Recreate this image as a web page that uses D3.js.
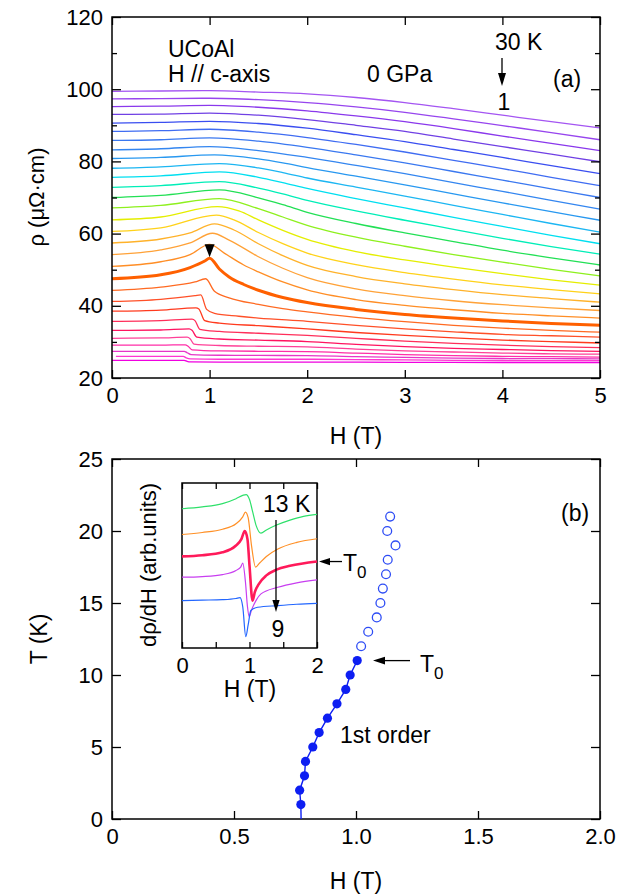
<!DOCTYPE html>
<html><head><meta charset="utf-8">
<script src="https://cdn.jsdelivr.net/npm/d3@7"></script>
<style>
body{margin:0;background:#fff;}
svg text{font-family:"Liberation Sans", Arial, Helvetica, sans-serif;fill:#000;}
</style></head><body>
<svg id="chart" width="630" height="895"></svg>
<script>
// ---------------- Panel (a): rho(H) curves, T = 30 K ... 1 K ----------------
const temperatures = [30,29,28,27,26,25,24,23,22,21,20,19,18,17,16,15,14,13,12,11,10,9,8,7,6,5,4,3,2,1];
const thickTemperature = 11;
const rho30 = [[0,99.4],[0.5,99.5],[1.0,99.6],[1.5,99.2],[2,98.7],[2.5,97.7],[3,96.3],[3.5,94.6],[4,92.8],[4.5,91.0],[5,89.3]];
const rho29 = [[0,97.3],[0.5,97.4],[1.0,97.5],[1.5,97.1],[2,96.3],[2.5,95.1],[3,93.6],[3.5,91.8],[4,89.9],[4.5,88.0],[5,86.0]];
const rho28 = [[0,95.2],[0.5,95.3],[1.0,95.5],[1.5,95.0],[2,94.0],[2.5,92.6],[3,91.0],[3.5,89.1],[4,87.0],[4.5,85.0],[5,83.0]];
const rho27 = [[0,93.0],[0.5,93.1],[1.0,93.4],[1.5,92.8],[2,91.6],[2.5,90.0],[3,88.3],[3.5,86.2],[4,84.1],[4.5,82.0],[5,79.9]];
const rho26 = [[0,90.6],[0.5,90.8],[1.0,91.1],[1.5,90.5],[2,89.2],[2.5,87.4],[3,85.5],[3.5,83.3],[4,81.1],[4.5,78.8],[5,76.6]];
const rho25 = [[0,88.3],[0.5,88.5],[1.0,88.9],[1.5,88.1],[2,86.6],[2.5,84.7],[3,82.6],[3.5,80.3],[4,78.0],[4.5,75.6],[5,73.3]];
const rho24 = [[0,85.8],[0.5,86.0],[1.0,86.5],[1.5,85.6],[2,83.9],[2.5,81.8],[3,79.6],[3.5,77.2],[4,74.8],[4.5,72.4],[5,70.0]];
const rho23 = [[0,83.2],[0.5,83.5],[1.0,84.1],[1.5,83.0],[2,81.1],[2.5,78.9],[3,76.6],[3.5,74.1],[4,71.7],[4.5,69.2],[5,66.8]];
const rho22 = [[0,80.8],[0.5,81.1],[1.05,81.8],[1.5,80.7],[1.75,79.6],[2,78.3],[2.5,75.9],[3,73.5],[3.5,71.0],[4,68.5],[4.5,66.1],[5,63.7]];
const rho21 = [[0,78.1],[0.5,78.5],[1.1,79.4],[1.5,78.2],[1.75,76.9],[2,75.4],[2.5,72.9],[3,70.4],[3.5,67.8],[4,65.3],[4.5,62.8],[5,60.4]];
const rho20 = [[0,75.6],[0.5,76.0],[1.1,77.1],[1.5,75.6],[1.75,74.1],[2,72.5],[2.5,69.7],[3,67.1],[3.5,64.5],[4,62.0],[4.5,59.5],[5,57.2]];
const rho19 = [[0,72.8],[0.5,73.3],[1.1,74.4],[1.5,72.6],[1.75,71.0],[2,69.2],[2.5,66.3],[3,63.7],[3.5,61.2],[4,58.7],[4.5,56.4],[5,54.3]];
const rho18 = [[0,70.0],[0.5,70.6],[1.1,72.1],[1.5,69.9],[1.75,68.0],[2,65.9],[2.5,62.8],[3,60.2],[3.5,57.8],[4,55.4],[4.5,53.3],[5,51.3]];
const rho17 = [[0,67.1],[0.5,67.8],[1.1,69.7],[1.5,66.9],[1.75,64.6],[2,62.3],[2.5,59.0],[3,56.5],[3.5,54.2],[4,52.1],[4.5,50.1],[5,48.3]];
const rho16 = [[0,63.8],[0.5,64.6],[1.08,67.5],[1.3,66.3],[1.5,63.8],[1.75,60.9],[2,58.4],[2.5,55.0],[3,52.7],[3.5,50.7],[4,48.9],[4.5,47.2],[5,45.7]];
const rho15 = [[0,60.6],[0.5,61.6],[1.07,65.1],[1.25,63.8],[1.5,60.3],[1.75,57.2],[2,54.6],[2.5,51.4],[3,49.2],[3.5,47.4],[4,45.8],[4.5,44.5],[5,43.3]];
const rho14 = [[0,57.4],[0.5,58.5],[0.8,60.2],[1.05,62.7],[1.25,61.0],[1.5,57.2],[1.75,53.9],[2,51.2],[2.5,48.1],[3,46.1],[3.5,44.5],[4,43.1],[4.5,42.0],[5,41.0]];
const rho13 = [[0,54.2],[0.5,55.5],[0.8,57.4],[1.03,60.1],[1.2,58.2],[1.5,53.6],[1.75,50.4],[2,47.8],[2.5,44.7],[3,42.8],[3.5,41.4],[4,40.3],[4.5,39.4],[5,38.7]];
const rho12 = [[0,50.9],[0.5,52.2],[0.8,54.2],[1.0,57.0],[1.15,54.6],[1.35,51.3],[1.5,49.4],[1.75,46.6],[2,44.4],[2.5,41.7],[3,40.1],[3.5,38.9],[4,37.9],[4.5,37.2],[5,36.6]];
const rho11 = [[0,47.5],[0.5,48.6],[0.8,50.6],[0.95,52.4],[1.0,53.2],[1.1,50.2],[1.2,48.0],[1.35,45.9],[1.5,44.3],[1.75,42.3],[2,40.9],[2.5,39.0],[3,37.6],[3.5,36.6],[4,35.8],[4.5,35.1],[5,34.6]];
const rho10 = [[0,44.3],[0.5,45.2],[0.85,46.6],[0.96,47.5],[1.05,44.0],[1.2,42.2],[1.5,40.4],[1.75,39.2],[2,38.3],[2.5,36.8],[3,35.6],[3.5,34.6],[4,33.8],[4.5,33.2],[5,32.7]];
const rho9  = [[0,41.2],[0.5,41.8],[0.85,42.8],[0.91,43.0],[0.97,39.0],[1.05,37.9],[1.3,37.1],[1.5,36.6],[2,35.7],[2.5,34.6],[3,33.6],[3.5,32.8],[4,32.1],[4.5,31.7],[5,31.3]];
const rho8  = [[0,38.5],[0.5,38.8],[0.86,39.4],[0.89,39.1],[0.95,35.9],[1.1,35.2],[1.5,34.5],[2,33.6],[2.5,32.6],[3,31.8],[3.5,31.1],[4,30.5],[4.5,30.1],[5,29.7]];
const rho7  = [[0,35.7],[0.5,35.9],[0.82,36.3],[0.85,35.9],[0.9,33.5],[1.1,32.9],[1.5,32.4],[2,31.8],[2.5,31.0],[3,30.2],[3.5,29.6],[4,29.1],[4.5,28.7],[5,28.4]];
const rho6  = [[0,33.2],[0.5,33.3],[0.79,33.6],[0.82,33.2],[0.87,31.3],[1.1,30.8],[1.5,30.5],[2,30.1],[2.5,29.3],[3,28.7],[3.5,28.2],[4,27.9],[4.5,27.6],[5,27.4]];
const rho5  = [[0,31.0],[0.5,31.1],[0.77,31.3],[0.8,30.9],[0.84,29.4],[1.1,29.0],[1.5,28.8],[2,28.6],[2.5,28.0],[3,27.5],[3.5,27.2],[4,26.9],[4.5,26.7],[5,26.6]];
const rho4  = [[0,29.1],[0.5,29.1],[0.75,29.2],[0.78,28.8],[0.82,27.8],[1.1,27.5],[1.5,27.4],[2,27.3],[2.5,26.9],[3,26.5],[3.5,26.2],[4,26.0],[4.5,25.9],[5,25.8]];
const rho3  = [[0,27.4],[0.5,27.4],[0.74,27.4],[0.77,27.0],[0.81,26.5],[1.1,26.3],[1.5,26.25],[2,26.2],[2.5,25.9],[3,25.7],[3.5,25.5],[4,25.4],[4.5,25.35],[5,25.3]];
const rho2  = [[0.04,26.0],[0.5,26.0],[0.73,26.0],[0.76,25.6],[0.8,25.3],[1.1,25.2],[2,25.2],[2.5,25.1],[3,25.0],[3.5,24.9],[4,24.85],[4.5,24.8],[5,24.8]];
const rho1  = [[0,24.9],[0.5,24.9],[0.74,24.9],[0.77,24.6],[0.8,24.45],[1.1,24.4],[2,24.4],[3,24.35],[4,24.3],[5,24.3]];
const curveColors = ["#a455f2","#9745ee","#8a38ec","#7040e4","#3a4ef0","#3f6cf2","#3a78f0","#3486f0","#2898f0","#1cb6f2",
                     "#00dff0","#00eeb8","#22e055","#8ef01e","#e4ee00","#ffd21a","#ffb22a","#ffa238","#ff8e26","#ff6000",
                     "#ff6a22","#ff5028","#ff3a1e","#ff2e5a","#ff1460","#ff4098","#ff2ea8","#e636c8","#ff36d2","#f000e0"];
const rhoTicks = [20,40,60,80,100,120];
const rhoMinorTicks = [30,50,70,90,110];
const fieldTicksA = [0,1,2,3,4,5];
const peakMarker = [1.0, 53.2];   // arrowhead on the 11 K curve

// ---------------- Panel (b): phase diagram ----------------
const firstOrderH = [0.774,0.769,0.789,0.793,0.823,0.849,0.883,0.922,0.958,0.976,1.005];
const firstOrderT = [1,2,3,4,5,6,7,8,9,10,11];
const firstOrderLineStart = [0.775, 0];
const crossoverH = [1.021,1.050,1.085,1.100,1.110,1.123,1.130,1.162,1.128,1.140];
const crossoverT = [12,13,14,15,16,17,18,19,20,21];
const tempTicksB = [0,5,10,15,20,25];
const fieldTicksB = [0,0.5,1.0,1.5,2.0];

// ---------------- Inset: d rho / dH ----------------
const insetTemps = [13,12,11,10,9];
const dRho13 = [[0,8.44],[0.3,8.55],[0.6,8.75],[0.8,9.05],[0.9,9.25],[0.95,9.3],[1.0,9.0],[1.05,8.2],[1.1,7.4],[1.17,6.96],[1.25,7.15],[1.4,7.45],[1.6,7.75],[1.8,7.98],[2.0,8.1]];
const dRho12 = [[0,6.88],[0.3,7.0],[0.6,7.2],[0.8,7.53],[0.9,7.95],[0.94,8.24],[0.98,7.9],[1.03,6.2],[1.09,4.9],[1.15,5.15],[1.25,5.55],[1.42,6.0],[1.7,6.4],[2.0,6.62]];
const dRho11 = [[0,5.55],[0.3,5.62],[0.6,5.8],[0.8,6.21],[0.88,6.6],[0.93,7.09],[0.97,6.6],[1.0,5.0],[1.045,2.87],[1.08,3.4],[1.14,3.89],[1.25,4.4],[1.4,4.75],[1.6,4.98],[2.0,5.24]];
const dRho10 = [[0,4.29],[0.3,4.33],[0.6,4.45],[0.8,4.70],[0.87,4.9],[0.9,5.14],[0.94,4.0],[0.97,2.5],[0.995,1.9],[1.03,2.3],[1.1,2.9],[1.17,3.28],[1.42,3.68],[1.7,3.95],[2.0,4.13]];
const dRho9  = [[0,2.87],[0.3,2.9],[0.6,2.93],[0.8,3.0],[0.86,3.05],[0.9,2.5],[0.945,0.69],[0.98,1.4],[1.02,2.27],[1.12,2.47],[1.42,2.57],[1.7,2.65],[2.0,2.71]];
const insetColors = ["#2ee06a","#ff9026","#ff1a5a","#c83ef0","#2266ff"];
const insetFieldTicks = [0,0.5,1,1.5,2];
const insetFieldLabels = [0,1,2];

// =====================================================================
const svg = d3.select("#chart");
const FONT = 22;
const ANN = 23;

function arrow(g, x1, y1, x2, y2, headLen, headHalf) {
  const ang = Math.atan2(y2 - y1, x2 - x1);
  const bx = x2 - headLen * Math.cos(ang), by = y2 - headLen * Math.sin(ang);
  g.append("line").attr("x1", x1).attr("y1", y1).attr("x2", bx).attr("y2", by)
    .attr("stroke", "#000").attr("stroke-width", 1.3);
  const px = -Math.sin(ang) * headHalf, py = Math.cos(ang) * headHalf;
  g.append("path").attr("d", `M${x2},${y2}L${bx + px},${by + py}L${bx - px},${by - py}Z`).attr("fill", "#000");
}

function styleAxis(sel, showLabels) {
  sel.select(".domain").remove();
  sel.selectAll(".tick line").attr("stroke", "#000").attr("stroke-width", 1.3);
  sel.selectAll(".tick text").attr("font-size", FONT).attr("font-family", '"Liberation Sans", Arial, sans-serif').attr("fill", "#000");
  if (!showLabels) sel.selectAll(".tick text").remove();
}

// ---------- Panel (a) ----------
const xA = d3.scaleLinear().domain([0, 5]).range([112, 600]);
const yA = d3.scaleLinear().domain([20, 120]).range([378, 17]);
const gA = svg.append("g");

const curves = [rho30,rho29,rho28,rho27,rho26,rho25,rho24,rho23,rho22,rho21,rho20,rho19,rho18,rho17,rho16,rho15,
                rho14,rho13,rho12,rho11,rho10,rho9,rho8,rho7,rho6,rho5,rho4,rho3,rho2,rho1];
const lineA = d3.line().x(d => xA(d[0])).y(d => yA(d[1])).curve(d3.curveMonotoneX);
const order = temperatures.map((t, i) => i).sort((a, b) => (temperatures[a] === thickTemperature) - (temperatures[b] === thickTemperature));
gA.selectAll("path.curve").data(order).enter().append("path")
  .attr("class", "curve")
  .attr("d", i => lineA(curves[i]))
  .attr("fill", "none")
  .attr("stroke", i => curveColors[i])
  .attr("stroke-width", i => temperatures[i] === thickTemperature ? 3 : 1.3);

// axes (inward ticks)
gA.append("g").attr("transform", "translate(0,378)")
  .call(d3.axisBottom(xA).tickValues(fieldTicksA).tickSizeInner(-8).tickSizeOuter(0).tickPadding(9).tickFormat(d3.format("d")))
  .call(s => styleAxis(s, true));
gA.append("g").attr("transform", "translate(0,17)")
  .call(d3.axisTop(xA).tickValues(fieldTicksA).tickSizeInner(-8).tickSizeOuter(0))
  .call(s => styleAxis(s, false));
gA.append("g").attr("transform", "translate(112,0)")
  .call(d3.axisLeft(yA).tickValues(rhoTicks).tickSizeInner(-9).tickSizeOuter(0).tickPadding(9))
  .call(s => styleAxis(s, true));
gA.append("g").attr("transform", "translate(112,0)")
  .call(d3.axisLeft(yA).tickValues(rhoMinorTicks).tickSizeInner(-5).tickSizeOuter(0))
  .call(s => styleAxis(s, false));
gA.append("g").attr("transform", "translate(600,0)")
  .call(d3.axisRight(yA).tickValues(rhoTicks).tickSizeInner(-9).tickSizeOuter(0))
  .call(s => styleAxis(s, false));
gA.append("g").attr("transform", "translate(600,0)")
  .call(d3.axisRight(yA).tickValues(rhoMinorTicks).tickSizeInner(-5).tickSizeOuter(0))
  .call(s => styleAxis(s, false));
gA.append("rect").attr("x", 112).attr("y", 17).attr("width", 488).attr("height", 361)
  .attr("fill", "none").attr("stroke", "#000").attr("stroke-width", 1.5);

// peak arrowhead
{
  const px = xA(peakMarker[0]), py = yA(peakMarker[1]);
  gA.append("path").attr("d", `M${px},${py - 1}L${px - 5},${py - 14}L${px + 5},${py - 14}Z`).attr("fill", "#000");
}

// annotations (a)
gA.append("text").attr("x", 168).attr("y", 57).attr("font-size", ANN).text("UCoAl");
gA.append("text").attr("x", 168).attr("y", 82).attr("font-size", ANN).text("H // c-axis");
gA.append("text").attr("x", 367).attr("y", 82).attr("font-size", ANN).text("0 GPa");
gA.append("text").attr("x", 495).attr("y", 50).attr("font-size", ANN).text("30 K");
arrow(gA, 502, 58, 502, 86, 13, 4);
gA.append("text").attr("x", 504).attr("y", 110).attr("font-size", ANN).attr("text-anchor", "middle").text("1");
gA.append("text").attr("x", 553).attr("y", 87).attr("font-size", ANN).text("(a)");

// axis titles (a)
gA.append("text").attr("transform", "translate(44,197) rotate(-90)").attr("text-anchor", "middle")
  .attr("font-size", 22).text("ρ (μΩ·cm)");
gA.append("text").attr("x", 356).attr("y", 444).attr("text-anchor", "middle").attr("font-size", ANN).text("H (T)");

// ---------- Panel (b) ----------
const xB = d3.scaleLinear().domain([0, 2]).range([112, 600]);
const yB = d3.scaleLinear().domain([0, 25]).range([819, 459]);
const gB = svg.append("g");
const fmtB = d => d === 0 ? "0" : d3.format(".1f")(d);
gB.append("g").attr("transform", "translate(0,819)")
  .call(d3.axisBottom(xB).tickValues(fieldTicksB).tickSizeInner(-8).tickSizeOuter(0).tickPadding(9).tickFormat(fmtB))
  .call(s => styleAxis(s, true));
gB.append("g").attr("transform", "translate(0,459)")
  .call(d3.axisTop(xB).tickValues(fieldTicksB).tickSizeInner(-8).tickSizeOuter(0))
  .call(s => styleAxis(s, false));
gB.append("g").attr("transform", "translate(112,0)")
  .call(d3.axisLeft(yB).tickValues(tempTicksB).tickSizeInner(-9).tickSizeOuter(0).tickPadding(9))
  .call(s => styleAxis(s, true));
gB.append("g").attr("transform", "translate(600,0)")
  .call(d3.axisRight(yB).tickValues(tempTicksB).tickSizeInner(-9).tickSizeOuter(0))
  .call(s => styleAxis(s, false));
gB.append("rect").attr("x", 112).attr("y", 459).attr("width", 488).attr("height", 360)
  .attr("fill", "none").attr("stroke", "#000").attr("stroke-width", 1.5);

// first-order line and points
const foPts = firstOrderH.map((h, i) => [h, firstOrderT[i]]);
const lineB = d3.line().x(d => xB(d[0])).y(d => yB(d[1]));
gB.append("path").attr("d", lineB([firstOrderLineStart, ...foPts]))
  .attr("fill", "none").attr("stroke", "#0d1ef2").attr("stroke-width", 1.4);
gB.selectAll("circle.fo").data(foPts).enter().append("circle").attr("class", "fo")
  .attr("cx", d => xB(d[0])).attr("cy", d => yB(d[1])).attr("r", 4.6).attr("fill", "#0d1ef2");
const coPts = crossoverH.map((h, i) => [h, crossoverT[i]]);
gB.selectAll("circle.co").data(coPts).enter().append("circle").attr("class", "co")
  .attr("cx", d => xB(d[0])).attr("cy", d => yB(d[1])).attr("r", 4.4)
  .attr("fill", "none").attr("stroke", "#2d4cf5").attr("stroke-width", 1.3);

// annotations (b)
gB.append("text").attr("x", 561).attr("y", 521).attr("font-size", ANN).text("(b)");
gB.append("text").attr("x", 340).attr("y", 743).attr("font-size", ANN).text("1st order");
arrow(gB, 410, yB(11), 373, yB(11), 12, 3.8);
gB.append("text").attr("x", 420).attr("y", 672).attr("font-size", ANN).text("T");
gB.append("text").attr("x", 434).attr("y", 679).attr("font-size", 17).text("0");
gB.append("text").attr("transform", "translate(47,639) rotate(-90)").attr("text-anchor", "middle")
  .attr("font-size", ANN).text("T (K)");
gB.append("text").attr("x", 356).attr("y", 889).attr("text-anchor", "middle").attr("font-size", ANN).text("H (T)");

// ---------- Inset ----------
const xI = d3.scaleLinear().domain([0, 2]).range([182, 317]);
const yI = d3.scaleLinear().domain([0, 10]).range([648, 483]);
const gI = svg.append("g");
gI.append("rect").attr("x", 182).attr("y", 483).attr("width", 135).attr("height", 165)
  .attr("fill", "#fff").attr("stroke", "#000").attr("stroke-width", 1.5);
const insetCurves = [dRho13, dRho12, dRho11, dRho10, dRho9];
const lineI = d3.line().x(d => xI(d[0])).y(d => yI(d[1])).curve(d3.curveMonotoneX);
gI.selectAll("path.ic").data(insetCurves).enter().append("path").attr("class", "ic")
  .attr("d", d => lineI(d)).attr("fill", "none")
  .attr("stroke", (d, i) => insetColors[i])
  .attr("stroke-width", (d, i) => insetTemps[i] === thickTemperature ? 2.6 : 1.2);
gI.append("g").attr("transform", "translate(0,648)")
  .call(d3.axisBottom(xI).tickValues(insetFieldTicks).tickSizeInner(-6).tickSizeOuter(0).tickPadding(9)
    .tickFormat(d => insetFieldLabels.includes(d) ? d3.format("d")(d) : ""))
  .call(s => styleAxis(s, true));
gI.append("g").attr("transform", "translate(0,483)")
  .call(d3.axisTop(xI).tickValues(insetFieldTicks).tickSizeInner(-6).tickSizeOuter(0))
  .call(s => styleAxis(s, false));
gI.append("text").attr("x", 250).attr("y", 697).attr("text-anchor", "middle").attr("font-size", ANN).text("H (T)");
gI.append("text").attr("transform", "translate(156,565) rotate(-90)").attr("text-anchor", "middle")
  .attr("font-size", 22).text("dρ/dH (arb.units)");
gI.append("text").attr("x", 263).attr("y", 512).attr("font-size", ANN).text("13 K");
arrow(gI, 276, 520, 276, 612, 12, 3.6);
gI.append("text").attr("x", 278).attr("y", 637).attr("text-anchor", "middle").attr("font-size", ANN).text("9");
arrow(gI, 342, yI(dRho11[dRho11.length - 1][1]) , 319, yI(dRho11[dRho11.length - 1][1]), 11, 3.6);
gI.append("text").attr("x", 343).attr("y", 571).attr("font-size", ANN).text("T");
gI.append("text").attr("x", 357).attr("y", 578).attr("font-size", 17).text("0");
</script>
</body></html>
